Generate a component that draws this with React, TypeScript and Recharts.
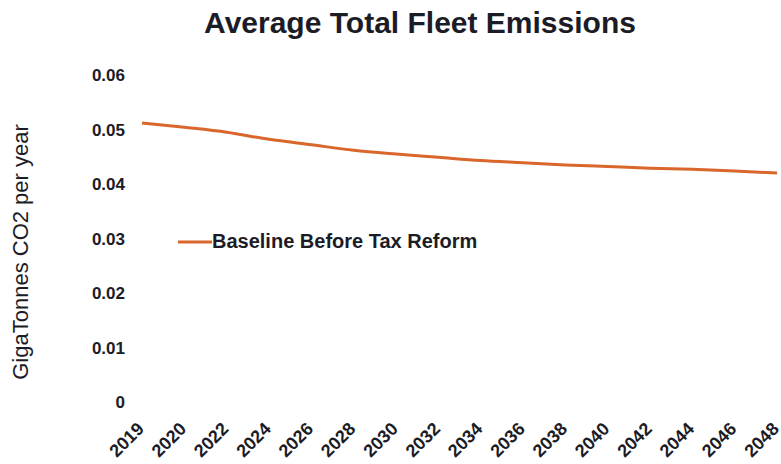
import React from 'react';
import { LineChart, Line, XAxis, YAxis } from 'recharts';

const years = ['2019', '2020', '2022', '2024', '2026', '2028', '2030', '2032', '2034', '2036', '2038', '2040', '2042', '2044', '2046', '2048'];
const baselineBeforeTaxReform = [0.0512, 0.0504, 0.0495, 0.0482, 0.0472, 0.0462, 0.0455, 0.0449, 0.0443, 0.0439, 0.0435, 0.0432, 0.0429, 0.0427, 0.0424, 0.042];
const yTicks = [0, 0.01, 0.02, 0.03, 0.04, 0.05, 0.06];

const data = years.map((year, i) => ({ year, baseline: baselineBeforeTaxReform[i] }));

const FONT = '"Liberation Sans", Arial, Helvetica, sans-serif';
const TEXT = '#1c1c26';
const ORANGE = '#D9662A';

const XTick = (props: any) => {
  const { x, y, payload } = props;
  const ax = x + 3;
  const ay = y + 26;
  return (
    <text x={ax} y={ay} transform={`rotate(-45, ${ax}, ${ay})`} textAnchor="end" fontFamily={FONT} fontWeight="bold" fontSize={18} fill={TEXT}>
      {payload.value}
    </text>
  );
};

export default function App() {
  return (
    <div style={{ position: 'absolute', left: 0, top: 0, width: 781, height: 464, background: '#fff' }}>
      <LineChart width={781} height={464} data={data} margin={{ top: 75, right: 4, bottom: 0, left: 0 }}>
        <XAxis dataKey="year" axisLine={false} tickLine={false} tickSize={0} tick={<XTick />} interval={0} height={62} />
        <YAxis
          width={142}
          domain={[0, 0.06]}
          ticks={yTicks}
          axisLine={false}
          tickLine={false}
          tickSize={0}
          tickMargin={17}
          tickFormatter={(v: number) => (v === 0 ? '0' : v.toFixed(2))}
          tick={{ fontFamily: FONT, fontWeight: 'bold', fontSize: 17, fill: TEXT }}
        />
        <Line type="monotone" dataKey="baseline" stroke={ORANGE} strokeWidth={3} dot={false} isAnimationActive={false} />
      </LineChart>
      <div style={{ position: 'absolute', left: 178, top: 230, display: 'flex', alignItems: 'center', fontFamily: FONT, fontWeight: 'bold', fontSize: 20, color: TEXT, whiteSpace: 'nowrap' }}>
        <svg width={34} height={4} style={{ display: 'block' }}>
          <line x1={0} y1={2} x2={34} y2={2} stroke={ORANGE} strokeWidth={3} />
        </svg>
        <span>Baseline Before Tax Reform</span>
      </div>
      <svg width={781} height={464} style={{ position: 'absolute', left: 0, top: 0, pointerEvents: 'none' }}>
        <text x={420} y={33} textAnchor="middle" fontFamily={FONT} fontWeight="bold" fontSize={30} fill={TEXT}>
          Average Total Fleet Emissions
        </text>
        <text x={28} y={252} transform="rotate(-90, 28, 252)" textAnchor="middle" fontFamily={FONT} fontSize={22} fill={TEXT}>
          GigaTonnes CO2 per year
        </text>
      </svg>
    </div>
  );
}
